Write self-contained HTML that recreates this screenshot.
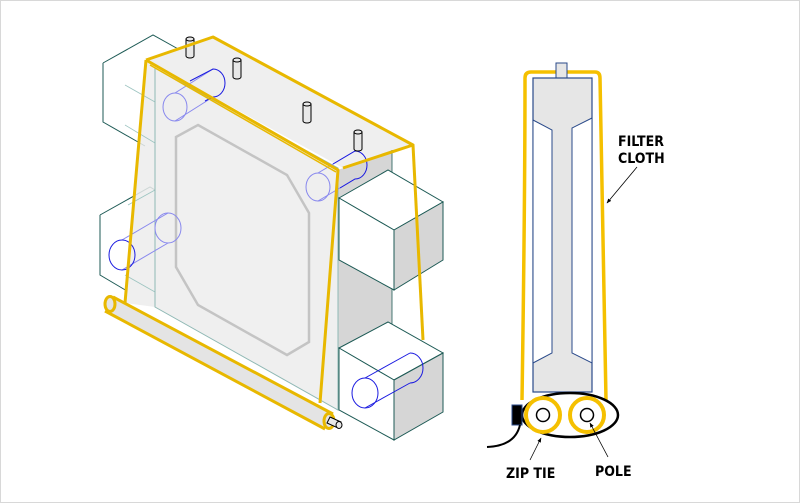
<!DOCTYPE html>
<html><head><meta charset="utf-8"><style>
html,body{margin:0;padding:0;background:#fff}
svg{display:block}
text{font-family:"DejaVu Sans Condensed","DejaVu Sans","Liberation Sans",sans-serif;font-weight:bold;font-size:14px;fill:#000}
</style></head><body>
<svg width="800" height="503" viewBox="0 0 800 503" xmlns="http://www.w3.org/2000/svg">
<defs><marker id="ar" viewBox="0 0 10 10" refX="9" refY="5" markerWidth="6" markerHeight="6" orient="auto"><path d="M0,1 L10,5 L0,9z" fill="#000"/></marker></defs>
<rect x="0.5" y="0.5" width="799" height="502" fill="#fff" stroke="#d8d8d8"/>
<!-- left boxes -->
<g stroke="#1d5a55" stroke-width="1" fill="none">
<path d="M103,63 L153,35 L180,50"/>
<path d="M103,63 L103,122 L145,146"/>
<path d="M100,215 L150,187 L165,196"/>
<path d="M100,215 L100,275 L127,291"/>
</g>
<!-- back top face -->
<path d="M146,60 L213,37 L413,145 L343,168Z" fill="#efefef" stroke="none"/>
<!-- gray side strip -->
<path d="M338,170 L392,150 L392,350 L338,410Z" fill="#d6d6d6"/>
<line x1="392" y1="150" x2="392" y2="420" stroke="#1d5a55" stroke-width="0.8"/>
<!-- cloth left flap area -->
<path d="M146,60 L155,68 L155,307 L125,303Z" fill="#ececec" opacity="0.85"/>
<g stroke="#9cc4c0" stroke-width="0.8" fill="none">
<path d="M125,85 L155,102"/><path d="M125,125 L155,143"/>
<path d="M128,205 L155,190"/><path d="M125,275 L155,292"/>
</g>
<!-- plate front -->
<path d="M155,68 L338,168 L338,410 L155,307Z" fill="#efefef" stroke="#8fb8b4" stroke-width="1"/>
<!-- octagon -->
<path d="M198,125 L287,175 L309,213 L309,342 L287,355 L198,305 L176,267 L176,137Z" fill="#f0f0f0" stroke="#c4c4c4" stroke-width="2.5"/>
<!-- right boxes -->
<g stroke="#1d5a55" stroke-width="1">
<path d="M339,198 L388,170 L443,202 L394,230Z" fill="#fff"/>
<path d="M339,198 L394,230 L394,290 L339,260Z" fill="#fff"/>
<path d="M394,230 L443,202 L443,260 L394,290Z" fill="#d6d6d6"/>
<path d="M339,348 L388,322 L443,353 L394,380Z" fill="#fff"/>
<path d="M339,348 L394,380 L394,440 L339,410Z" fill="#fff"/>
<path d="M394,380 L443,353 L443,412 L394,440Z" fill="#d6d6d6"/>
</g>
<!-- cylinders -->
<g fill="none" stroke-width="1">
<g stroke="#8888ee"><ellipse cx="175" cy="107" rx="12" ry="14"/><line x1="175" y1="93" x2="213" y2="69"/><line x1="175" y1="121" x2="213" y2="97"/></g>
<path d="M190,81 L213,69 A12,14 0 0 1 213,97 L205,101" stroke="#1a1ae0"/>
<g stroke="#8888ee"><ellipse cx="318" cy="187" rx="12" ry="14"/><line x1="318" y1="173" x2="355" y2="151"/><line x1="318" y1="201" x2="355" y2="179"/></g>
<path d="M333,164 L355,151 A12,14 0 0 1 355,179 L340,188" stroke="#1a1ae0"/>
<g stroke="#8888ee"><ellipse cx="168" cy="228" rx="13" ry="15"/><line x1="122" y1="240" x2="168" y2="213"/><line x1="122" y1="270" x2="168" y2="243"/></g>
<ellipse cx="122" cy="255" rx="13" ry="15" stroke="#1a1ae0"/>
<g stroke="#1a1ae0"><ellipse cx="365" cy="393" rx="13" ry="15"/><line x1="365" y1="378" x2="410" y2="353"/><line x1="365" y1="408" x2="410" y2="383"/><path d="M410,353 A13,15 0 0 1 410,383"/></g>
</g>
<!-- pins -->
<g fill="#e8e8e8" stroke="#000" stroke-width="1">
<path d="M186,39 L186,56 A4,2 0 0 0 194,56 L194,39Z"/><ellipse cx="190" cy="39" rx="4" ry="2"/>
<path d="M233,60 L233,77 A4,2 0 0 0 241,77 L241,60Z"/><ellipse cx="237" cy="60" rx="4" ry="2"/>
<path d="M303,104 L303,121 A4,2 0 0 0 311,121 L311,104Z"/><ellipse cx="307" cy="104" rx="4" ry="2"/>
<path d="M354,132 L354,149 A4,2 0 0 0 362,149 L362,132Z"/><ellipse cx="358" cy="132" rx="4" ry="2"/>
</g>
<!-- yellow cloth -->
<g fill="none" stroke="#e8b800" stroke-width="3" stroke-linejoin="round">
<path d="M146,60 L213,37 L413,145 L343,168"/>
<path d="M413,145 L423,340"/>
<path d="M146,60 L338,170 L320,403"/>
<path d="M146,60 L125,303"/>
<line x1="150" y1="65" x2="336" y2="172" stroke-width="1.5"/>
</g>
<!-- roller -->
<path d="M112,297 L332,415 L326,429 L106,311Z" fill="#e4e4e4"/>
<g fill="#e4e4e4" stroke="#e8b800" stroke-width="3">
<line x1="113" y1="297" x2="333" y2="414"/><line x1="105" y1="311" x2="325" y2="429"/>
<ellipse cx="110" cy="304" rx="5" ry="7.5"/>
<ellipse cx="329" cy="421" rx="5" ry="7.5"/>
</g>
<g fill="#e8e8e8" stroke="#000" stroke-width="1">
<path d="M330,417 L341,422 L338,428 L327,423Z"/><ellipse cx="339" cy="425" rx="3" ry="3.5"/>
</g>

<!-- right drawing -->
<path d="M522,400 Q525,200 525,78 Q525,72 531,72 L595,72 Q600,72 600,78 Q603,250 606,400" fill="#fff" stroke="#f5c000" stroke-width="3.5" stroke-linejoin="round"/>
<rect x="556" y="63" width="11" height="15" fill="#e6e6e6" stroke="#2a4a8a" stroke-width="1"/>
<rect x="533" y="78" width="59" height="314" fill="#e6e6e6" stroke="#2a4a8a" stroke-width="1.2"/>
<path d="M533,120 L552,130 L552,353 L533,363Z" fill="#fff" stroke="#2a4a8a" stroke-width="1"/>
<path d="M592,118 L572,128 L572,353 L592,363Z" fill="#fff" stroke="#2a4a8a" stroke-width="1"/>
<ellipse cx="570" cy="415" rx="48" ry="22" fill="#fff" stroke="#000" stroke-width="2.5"/>
<circle cx="543" cy="415" r="17" fill="#fff" stroke="#f5c000" stroke-width="4"/>
<circle cx="587" cy="415" r="17" fill="#fff" stroke="#f5c000" stroke-width="4"/>
<circle cx="543" cy="415" r="6.5" fill="#fff" stroke="#000" stroke-width="1.5"/>
<circle cx="587" cy="415" r="6.5" fill="#fff" stroke="#000" stroke-width="1.5"/>
<rect x="512" y="405" width="10" height="20" fill="#000" stroke="#2a4a8a" stroke-width="1"/>
<path d="M520,425 Q515,446 487,447" fill="none" stroke="#000" stroke-width="2"/>
<text x="618" y="146">FILTER</text>
<text x="618" y="163">CLOTH</text>
<line x1="637" y1="167" x2="607" y2="203" stroke="#000" stroke-width="0.8" marker-end="url(#ar)"/>
<line x1="530" y1="460" x2="541" y2="438" stroke="#000" stroke-width="0.8" marker-end="url(#ar)"/>
<line x1="608" y1="457" x2="590" y2="423" stroke="#000" stroke-width="0.8" marker-end="url(#ar)"/>
<text x="506" y="478">ZIP TIE</text>
<text x="595" y="476">POLE</text>
</svg>
</body></html>
